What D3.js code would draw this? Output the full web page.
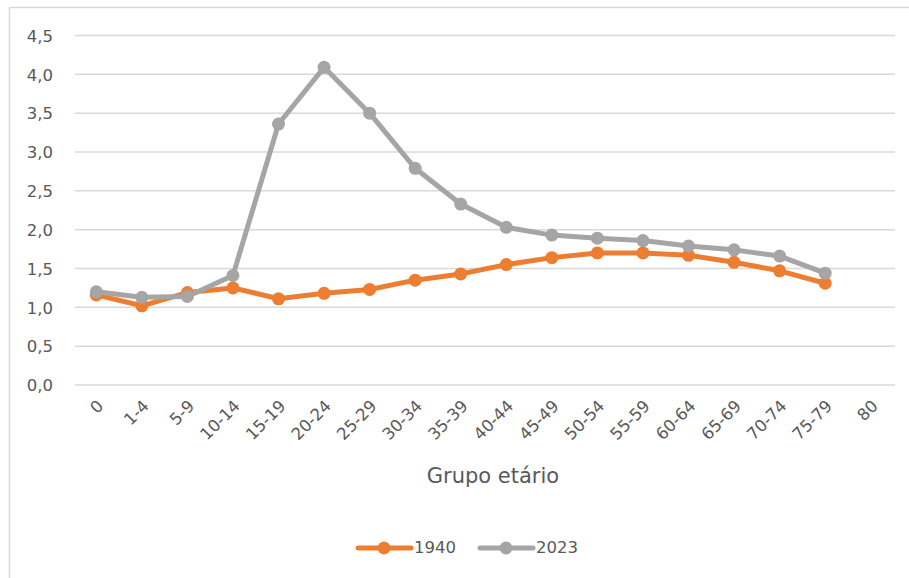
<!DOCTYPE html>
<html>
<head>
<meta charset="utf-8">
<script src="https://cdn.jsdelivr.net/npm/d3@7"></script>
<style>
  html, body { margin: 0; padding: 0; background: #fff; }
  svg { display: block; }
  text { font-family: "DejaVu Sans", "Open Sans", sans-serif; fill: #595959; }
</style>
</head>
<body>
<svg id="chart" width="909" height="578"></svg>
<script>
// Age groups (x categories)
const ageGroups = ["0", "1-4", "5-9", "10-14", "15-19", "20-24", "25-29", "30-34", "35-39",
  "40-44", "45-49", "50-54", "55-59", "60-64", "65-69", "70-74", "75-79", "80"];

// Series values per age group (no value for "80")
const values1940 = [1.16, 1.02, 1.19, 1.25, 1.11, 1.18, 1.23, 1.35, 1.43,
  1.55, 1.64, 1.70, 1.70, 1.67, 1.58, 1.47, 1.31, null];
const values2023 = [1.20, 1.13, 1.14, 1.41, 3.36, 4.09, 3.50, 2.79, 2.33,
  2.03, 1.93, 1.89, 1.86, 1.79, 1.74, 1.66, 1.44, null];

const yTicks = [0, 0.5, 1, 1.5, 2, 2.5, 3, 3.5, 4, 4.5];

const seriesList = [
  { name: "1940", values: values1940, color: "#ED7D31" },
  { name: "2023", values: values2023, color: "#A5A5A5" }
];

const svg = d3.select("#chart");
const fmt = v => d3.format(".1f")(v).replace(".", ",");
const font = "'DejaVu Sans', sans-serif";

// Outer chart frame (top and left edges visible)
svg.append("line").attr("x1", 9.5).attr("x2", 909).attr("y1", 7.5).attr("y2", 7.5)
  .attr("stroke", "#d9d9d9").attr("stroke-width", 1.5);
svg.append("line").attr("x1", 9.5).attr("x2", 9.5).attr("y1", 7.5).attr("y2", 578)
  .attr("stroke", "#d9d9d9").attr("stroke-width", 1.5);

const plot = { left: 75, right: 895, top: 35.5, bottom: 385 };

const x = d3.scaleBand().domain(ageGroups).range([plot.left, plot.right]).padding(0);
const cx = d => x(d) + x.bandwidth() / 2 - 1.5;
const y = d3.scaleLinear().domain([0, 4.5]).range([plot.bottom, plot.top]);

// Horizontal gridlines
svg.append("g").selectAll("line").data(yTicks).join("line")
  .attr("x1", plot.left).attr("x2", plot.right)
  .attr("y1", d => y(d)).attr("y2", d => y(d))
  .attr("stroke", "#d9d9d9").attr("stroke-width", 1.5);

// Y axis labels
const yAxis = d3.axisLeft(y).tickValues(yTicks).tickFormat(fmt).tickSize(0).tickPadding(0);
svg.append("g").attr("transform", `translate(${plot.left - 22},0)`).call(yAxis)
  .call(g => g.select(".domain").remove())
  .call(g => g.selectAll("text").attr("font-size", 16.5).attr("fill", "#595959")
    .attr("font-family", font).attr("dy", "0.35em"));

// X axis labels, rotated
const xAxis = d3.axisBottom(x).tickSize(0).tickPadding(0);
svg.append("g").attr("transform", `translate(0,${plot.bottom})`).call(xAxis)
  .call(g => g.select(".domain").remove())
  .call(g => g.selectAll(".tick").attr("transform", d => `translate(${cx(d) + 4},18)`))
  .call(g => g.selectAll("text")
    .attr("font-size", 16.5).attr("fill", "#595959")
    .attr("font-family", font)
    .attr("text-anchor", "end").attr("y", 0).attr("dy", "0.35em")
    .attr("transform", "rotate(-45)"));

// X axis title
svg.append("text").attr("x", 493).attr("y", 477).attr("text-anchor", "middle")
  .attr("dominant-baseline", "middle").attr("font-size", 21).text("Grupo etário");

// Lines and markers
const line = d3.line()
  .defined(d => d.v != null)
  .x(d => cx(d.k)).y(d => y(d.v));

seriesList.forEach(s => {
  const pts = ageGroups.map((k, i) => ({ k, v: s.values[i] }));
  svg.append("path").datum(pts)
    .attr("fill", "none").attr("stroke", s.color).attr("stroke-width", 5)
    .attr("stroke-linejoin", "round").attr("stroke-linecap", "round")
    .attr("d", line);
  svg.append("g").selectAll("circle").data(pts.filter(d => d.v != null)).join("circle")
    .attr("cx", d => cx(d.k)).attr("cy", d => y(d.v)).attr("r", 6.5)
    .attr("fill", s.color);
});

// Legend
const legend = svg.append("g");
const legendItems = [
  { s: seriesList[0], x0: 358 },
  { s: seriesList[1], x0: 480 }
];
legendItems.forEach(({ s, x0 }) => {
  legend.append("line").attr("x1", x0).attr("x2", x0 + 53).attr("y1", 548).attr("y2", 548)
    .attr("stroke", s.color).attr("stroke-width", 5).attr("stroke-linecap", "round");
  legend.append("circle").attr("cx", x0 + 26).attr("cy", 548).attr("r", 6.5).attr("fill", s.color);
  legend.append("text").attr("x", x0 + 56).attr("y", 548).attr("dominant-baseline", "middle")
    .attr("font-size", 16.5).text(s.name);
});
</script>
</body>
</html>
